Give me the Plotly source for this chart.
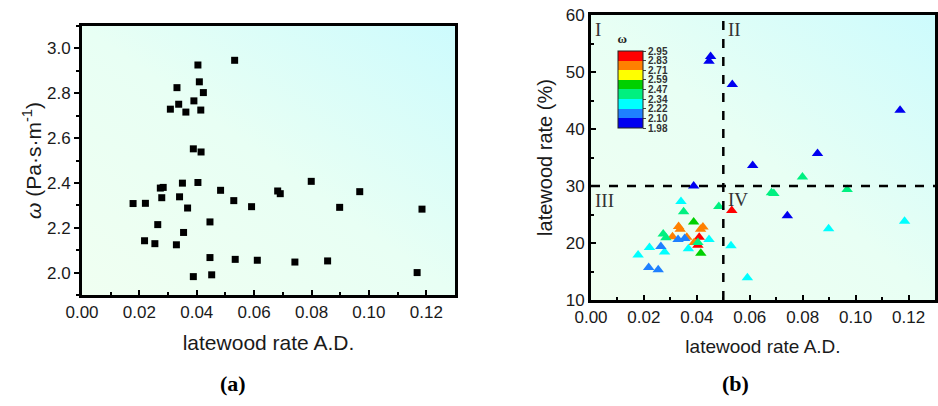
import base64
import plotly.graph_objects as go

# ---- data ----
latewood_ad = [0.0404, 0.0532, 0.0409, 0.0331, 0.0423, 0.0390, 0.0337, 0.0308, 0.0362, 0.0414,
               0.0388, 0.0415, 0.0350, 0.0404, 0.0273, 0.0283, 0.0340, 0.0278, 0.0178, 0.0221,
               0.0368, 0.0483, 0.0529, 0.0591, 0.0682, 0.0691, 0.0799, 0.0898, 0.0968, 0.1185,
               0.0264, 0.0446, 0.0354, 0.0218, 0.0254, 0.0329, 0.0446, 0.0534, 0.0611, 0.0742,
               0.0856, 0.0388, 0.0452, 0.1168]
omega = [2.926, 2.947, 2.851, 2.825, 2.803, 2.766, 2.751, 2.729, 2.716, 2.725,
         2.552, 2.538, 2.399, 2.402, 2.377, 2.380, 2.338, 2.334, 2.308, 2.309,
         2.288, 2.367, 2.321, 2.294, 2.364, 2.352, 2.407, 2.291, 2.361, 2.283,
         2.214, 2.226, 2.179, 2.142, 2.129, 2.124, 2.067, 2.059, 2.055, 2.047,
         2.052, 1.982, 1.990, 2.000]
latewood_pct = [19.6, 25.7, 21.0, 22.9, 22.8, 20.1, 22.4, 21.1, 21.0, 22.4,
                23.7, 18.2, 25.5, 20.1, 21.6, 20.9, 27.3, 18.4, 17.9, 19.2,
                19.0, 26.4, 19.5, 13.9, 28.8, 28.7, 31.6, 22.5, 29.4, 23.8,
                19.4, 20.6, 20.8, 15.7, 15.3, 20.6, 51.9, 47.8, 33.6, 24.8,
                35.7, 30.0, 52.7, 43.3]
omega_levels = [1.98, 2.10, 2.22, 2.34, 2.47, 2.59, 2.71, 2.83, 2.95]
level_colors = ['#0000f0', '#1e80ff', '#00ffff', '#00f080', '#00d000', '#ffff00', '#ff8000', '#ff0000']
quadrant_labels = ['I', 'II', 'III', 'IV']
quadrant_x = [0.0008, 0.0512, 0.0008, 0.0512]
quadrant_y = [57.4, 57.4, 27.4, 27.6]
split_x = 0.05
split_y = 30
x_range = [0, 0.13]
omega_range = [1.9, 3.1]
pct_range = [10, 60]

W, H = 938, 406
FONT = "Arial, Liberation Sans, sans-serif"
SERIF = "Liberation Serif, Times New Roman, serif"

lo, hi = omega_levels[0], omega_levels[-1]
cs = []
for i, c in enumerate(level_colors):
    a = (omega_levels[i] - lo) / (hi - lo)
    b = (omega_levels[i + 1] - lo) / (hi - lo)
    cs.append([a, c])
    cs.append([b, c])

# background gradient (style only)
svg = ('<svg xmlns="http://www.w3.org/2000/svg" width="100" height="100" viewBox="0 0 100 100" preserveAspectRatio="none">'
       '<defs><linearGradient id="g" x1="0" y1="1" x2="1" y2="0">'
       '<stop offset="0" stop-color="#f0fff1"/><stop offset="0.5" stop-color="#e8fff4"/>'
       '<stop offset="1" stop-color="#cdfbfd"/></linearGradient></defs>'
       '<rect width="100" height="100" fill="url(#g)"/></svg>')
svg_uri = "data:image/svg+xml;base64," + base64.b64encode(svg.encode()).decode()

L1, R1, T1, B1 = 82, 455, 26, 295
L2, R2, T2, B2 = 591, 935, 15, 300

fig = go.Figure()

fig.add_trace(go.Scatter(x=latewood_ad, y=omega, mode='markers',
                         marker=dict(symbol='square', size=7, color='black'),
                         xaxis='x', yaxis='y', showlegend=False))

fig.add_trace(go.Scatter(x=latewood_ad, y=latewood_pct, mode='markers',
                         marker=dict(symbol='triangle-up', size=10, color=omega,
                                     colorscale=cs, cmin=lo, cmax=hi, line=dict(width=0),
                                     colorbar=dict(
                                         x=618 / W, xanchor='left', xpad=0,
                                         y=1 - 31 / H, yanchor='top', ypad=0,
                                         thickness=25, len=97, lenmode='pixels',
                                         tickvals=omega_levels,
                                         ticktext=[f"<b>{v:.2f}</b>" for v in omega_levels],
                                         ticks='outside', ticklen=3, tickcolor='#444',
                                         tickfont=dict(family=FONT, size=10, color='#333'),
                                         outlinewidth=1, outlinecolor='#222',
                                         title=dict(text='<b>ω</b>', side='top',
                                                    font=dict(family=SERIF, size=13, color='#222')),
                                     )),
                         xaxis='x2', yaxis='y2', showlegend=False))

axis_common = dict(showline=True, linecolor='black', mirror=True, linewidth=3,
                   showgrid=False, zeroline=False, automargin=False,
                   tickfont=dict(family=FONT, size=17, color='#1a1a1a'),
                   tickcolor='black', tickwidth=2)

fig.update_layout(
    width=W, height=H, margin=dict(l=0, r=0, t=0, b=0, pad=0, autoexpand=False),
    paper_bgcolor='white', plot_bgcolor='rgba(0,0,0,0)',
    xaxis=dict(domain=[L1 / W, R1 / W], range=x_range, anchor='y',
               tick0=0, dtick=0.02, tickformat='.2f', ticks='inside', ticklen=5,
               minor=dict(dtick=0.01, ticks='inside', ticklen=3),
               title=dict(text='latewood rate A.D.', font=dict(family=FONT, size=21, color='#1a1a1a'), standoff=14),
               **axis_common),
    yaxis=dict(domain=[1 - B1 / H, 1 - T1 / H], range=omega_range, anchor='x',
               tick0=2.0, dtick=0.2, tickformat='.1f', ticks='outside', ticklen=5,
               minor=dict(dtick=0.1, ticks='outside', ticklen=3),
               title=dict(text='<i>ω</i> (Pa·s·m<sup>-1</sup>)', font=dict(family=FONT, size=21, color='#1a1a1a'), standoff=0),
               **axis_common),
    xaxis2=dict(domain=[L2 / W, R2 / W], range=x_range, anchor='y2',
                tick0=0, dtick=0.02, tickformat='.2f', ticks='inside', ticklen=5,
                minor=dict(dtick=0.01, ticks='inside', ticklen=3),
                title=dict(text='latewood rate A.D.', font=dict(family=FONT, size=19, color='#1a1a1a'), standoff=14),
                **axis_common),
    yaxis2=dict(domain=[1 - B2 / H, 1 - T2 / H], range=pct_range, anchor='x2',
                tick0=10, dtick=10, ticks='inside', ticklen=5,
                minor=dict(dtick=5, ticks='inside', ticklen=3),
                title=dict(text='latewood rate (%)', font=dict(family=FONT, size=20, color='#1a1a1a'), standoff=8),
                **axis_common),
    images=[
        dict(source=svg_uri, xref='paper', yref='paper', x=L1 / W, y=1 - T1 / H,
             sizex=(R1 - L1) / W, sizey=(B1 - T1) / H, sizing='stretch',
             xanchor='left', yanchor='top', layer='below'),
        dict(source=svg_uri, xref='paper', yref='paper', x=L2 / W, y=1 - T2 / H,
             sizex=(R2 - L2) / W, sizey=(B2 - T2) / H, sizing='stretch',
             xanchor='left', yanchor='top', layer='below'),
    ],
)

# quadrant dividers
fig.add_shape(type='line', xref='x2', yref='y2 domain', x0=split_x, x1=split_x, y0=0, y1=1,
              line=dict(color='black', width=2.5, dash='dash'))
fig.add_shape(type='line', xref='x2 domain', yref='y2', x0=0, x1=1, y0=split_y, y1=split_y,
              line=dict(color='black', width=2.5, dash='dash'))

for tx, qx, qy in zip(quadrant_labels, quadrant_x, quadrant_y):
    fig.add_annotation(x=qx, y=qy, xref='x2', yref='y2', text=tx, showarrow=False,
                       xanchor='left', yanchor='middle',
                       font=dict(family=SERIF, size=19, color='#333'))

for tx, px in [('(a)', 233), ('(b)', 735)]:
    fig.add_annotation(x=px / W, y=1 - 383 / H, xref='paper', yref='paper', text=f'<b>{tx}</b>',
                       showarrow=False, xanchor='center', yanchor='middle',
                       font=dict(family=SERIF, size=22, color='black'))

fig.write_html("out.html")
